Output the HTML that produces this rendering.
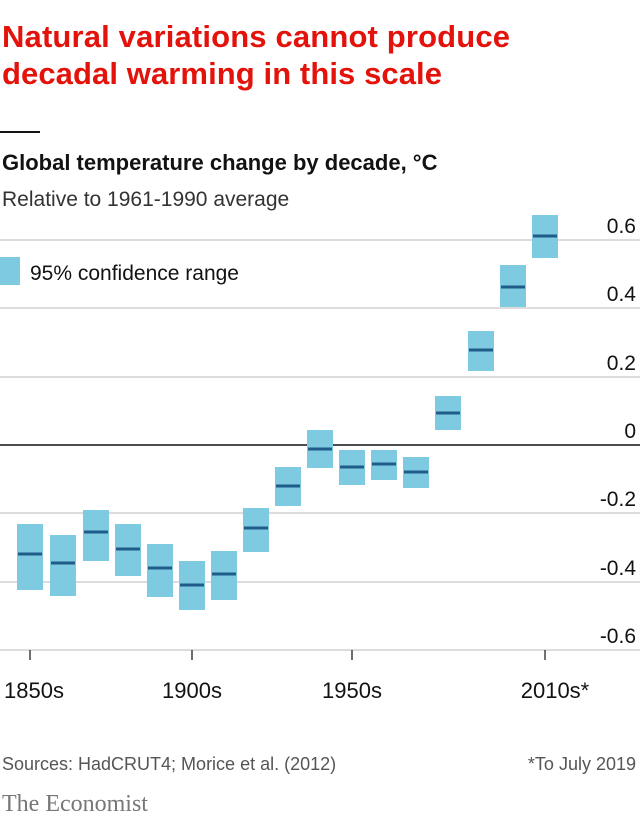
<!DOCTYPE html>
<html><head><meta charset="utf-8"><style>
body{margin:0;background:#fff;width:640px;height:821px;overflow:hidden;font-family:"Liberation Sans",sans-serif;}
svg text{font-family:"Liberation Sans",sans-serif;}
</style></head><body>
<svg width="640" height="821" viewBox="0 0 640 821">
<text x="2" y="47" font-size="31" fill="#e3120b" font-weight="bold" textLength="508">Natural variations cannot produce</text>
<text x="2" y="84" font-size="31" fill="#e3120b" font-weight="bold" textLength="440">decadal warming in this scale</text>
<rect x="0" y="131" width="40" height="2" fill="#121212"/>
<text x="2" y="170" font-size="22" font-weight="bold" fill="#121212">Global temperature change by decade, °C</text>
<text x="2" y="206" font-size="21" fill="#333">Relative to 1961-1990 average</text>
<g stroke="#c8c8c8" stroke-width="1.2">
<line x1="0" y1="240" x2="640" y2="240"/><line x1="0" y1="308" x2="640" y2="308"/>
<line x1="0" y1="377" x2="640" y2="377"/><line x1="0" y1="513" x2="640" y2="513"/>
<line x1="0" y1="582" x2="640" y2="582"/><line x1="0" y1="650" x2="640" y2="650"/>
</g>
<line x1="0" y1="445" x2="640" y2="445" stroke="#121212" stroke-width="1.5"/>
<g font-size="21" fill="#121212" text-anchor="end">
<text x="636" y="233">0.6</text><text x="636" y="301">0.4</text><text x="636" y="370">0.2</text>
<text x="636" y="438">0</text><text x="636" y="506">-0.2</text><text x="636" y="575">-0.4</text><text x="636" y="643">-0.6</text>
</g>
<rect x="0" y="257" width="20" height="28" fill="#7ecae0"/>
<text x="30" y="280" font-size="21" fill="#121212">95% confidence range</text>
<g fill="#7ecae0" stroke="none">
<rect x="17" y="524" width="26" height="66"/><rect x="50" y="535" width="26" height="61"/>
<rect x="83" y="510" width="26" height="51"/><rect x="115" y="524" width="26" height="52"/>
<rect x="147" y="544" width="26" height="53"/><rect x="179" y="561" width="26" height="49"/>
<rect x="211" y="551" width="26" height="49"/><rect x="243" y="508" width="26" height="44"/>
<rect x="275" y="467" width="26" height="39"/><rect x="307" y="430" width="26" height="38"/>
<rect x="339" y="450" width="26" height="35"/><rect x="371" y="450" width="26" height="30"/>
<rect x="403" y="457" width="26" height="31"/><rect x="435" y="396" width="26" height="34"/>
<rect x="468" y="331" width="26" height="40"/><rect x="500" y="265" width="26" height="42"/>
<rect x="532" y="215" width="26" height="43"/>
</g>
<g stroke="#1f5c8a" stroke-width="3">
<line x1="18" x2="42" y1="554" y2="554"/><line x1="51" x2="75" y1="563" y2="563"/>
<line x1="84" x2="108" y1="532" y2="532"/><line x1="116" x2="140" y1="549" y2="549"/>
<line x1="148" x2="172" y1="568" y2="568"/><line x1="180" x2="204" y1="585" y2="585"/>
<line x1="212" x2="236" y1="574" y2="574"/><line x1="244" x2="268" y1="528" y2="528"/>
<line x1="276" x2="300" y1="486" y2="486"/><line x1="308" x2="332" y1="449" y2="449"/>
<line x1="340" x2="364" y1="467" y2="467"/><line x1="372" x2="396" y1="464" y2="464"/>
<line x1="404" x2="428" y1="472" y2="472"/><line x1="436" x2="460" y1="413" y2="413"/>
<line x1="469" x2="493" y1="350" y2="350"/><line x1="501" x2="525" y1="287" y2="287"/>
<line x1="533" x2="557" y1="236" y2="236"/>
</g>
<g stroke="#121212" stroke-width="1.2">
<line x1="30" x2="30" y1="650" y2="660"/><line x1="192" x2="192" y1="650" y2="660"/>
<line x1="352" x2="352" y1="650" y2="660"/><line x1="545" x2="545" y1="650" y2="660"/>
</g>
<g font-size="22" fill="#121212" text-anchor="middle">
<text x="34" y="698">1850s</text><text x="192" y="698">1900s</text>
<text x="352" y="698">1950s</text><text x="555" y="698">2010s*</text>
</g>
<text x="2" y="770" font-size="18" fill="#555">Sources: HadCRUT4; Morice et al. (2012)</text>
<text x="636" y="770" font-size="18" fill="#555" text-anchor="end">*To July 2019</text>
<text x="2" y="811" font-size="24" fill="#777" style="font-family:'Liberation Serif',serif">The Economist</text>
</svg>
</body></html>
